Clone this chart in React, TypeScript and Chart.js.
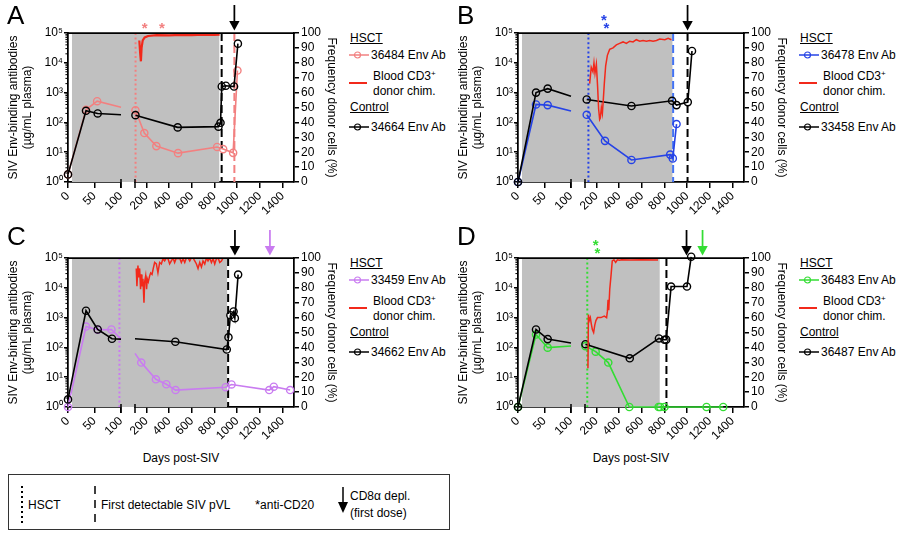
import React, { useEffect, useRef } from "react";
import { Chart, registerables } from "chart.js";

Chart.register(...registerables);

type Pt = number[]; // [day, value, markerFlag?]  markerFlag 0 => line end without marker

// ---------- shared axis values ----------
const leftSegTicks = [0, 50, 100];
const rightSegTicks = [200, 400, 600, 800, 1000, 1200, 1400];
const logTicks = [1, 10, 100, 1000, 10000, 100000];
const pctTicks = [0, 10, 20, 30, 40, 50, 60, 70, 80, 90, 100];
const supDigits = ["⁰", "¹", "²", "³", "⁴", "⁵"];

// ---------- Panel A ----------
const aHsctName = "36484 Env Ab";
const aCtrlName = "34664 Env Ab";
const aHsctLeft: Pt[] = [[0, 1.8], [34, 265], [55, 515], [100, 320, 0]];
const aHsctRight: Pt[] = [[104, 255], [182, 44], [288, 16], [479, 9.3], [823, 15], [876, 12.7], [964, 9.5], [1002, 5500]];
const aCtrlLeft: Pt[] = [[0, 1.8], [34, 245], [56, 200], [100, 180, 0]];
const aCtrlRight: Pt[] = [[104, 175], [476, 68], [835, 72], [853, 97], [864, 1600], [900, 1700], [972, 1600], [1006, 44000]];
const aChim: Pt[] = [[138, 95], [146, 86], [152, 81], [158, 90], [168, 95], [185, 97], [215, 98], [290, 98.6], [400, 98.4], [500, 98.8], [600, 98.6], [700, 98.9], [800, 98.7], [845, 98.9]];
const aGray = [7.5, 842];
const aHsctDay = 105;
const aPvlCtrlDay = 863;
const aPvlHsctDay = 975;
const aCd8CtrlDay = 975;
const aAntiCd20 = [185, 338];

// ---------- Panel B ----------
const bHsctName = "36478 Env Ab";
const bCtrlName = "33458 Env Ab";
const bHsctLeft: Pt[] = [[0, 1], [34, 400], [56, 380], [100, 240, 0]];
const bHsctRight: Pt[] = [[115, 180], [276, 24], [509, 5.5], [850, 8.3], [873, 6.2], [906, 88]];
const bCtrlLeft: Pt[] = [[0, 1], [34, 1000], [56, 1360], [100, 760, 0]];
const bCtrlRight: Pt[] = [[115, 590], [509, 355], [867, 530], [906, 380], [1005, 480], [1042, 25000]];
const bChim: Pt[] = [[141, 66], [155, 77], [170, 74], [179, 80], [188, 73], [200, 79], [211, 64], [220, 49], [229, 42], [235, 43], [244, 50], [253, 46], [261, 55], [270, 66], [282, 78], [297, 85], [317, 89], [347, 90], [376, 92], [405, 93], [435, 94], [464, 93], [494, 94.5], [523, 94], [552, 95.5], [582, 94.5], [611, 95], [641, 94.5], [670, 95], [699, 94.5], [729, 95], [758, 96], [803, 95.5], [832, 96.5], [861, 95.5]];
const bGray = [7.5, 870];
const bHsctDay = 130;
const bPvlHsctDay = 876;
const bPvlCtrlDay = 1003;
const bCd8CtrlDay = 1003;
const bAntiCd20 = [267, 288];

// ---------- Panel C ----------
const cHsctName = "33459 Env Ab";
const cCtrlName = "34662 Env Ab";
const cHsctLeft: Pt[] = [[0, 1], [34, 500], [56, 390], [82, 400], [100, 190, 0]];
const cHsctRight: Pt[] = [[100, 63, 0], [155, 31], [284, 8.5], [376, 5.8], [457, 3.7], [898, 4.6], [950, 5.7], [1282, 3.7], [1322, 4.8], [1466, 3.7]];
const cCtrlLeft: Pt[] = [[0, 1.8], [34, 1700], [56, 400], [83, 195], [100, 190, 0]];
const cCtrlRight: Pt[] = [[100, 195, 0], [455, 155], [908, 85], [923, 218], [940, 1200], [968, 1600], [979, 960], [1008, 27700]];
const cChim: Pt[] = [[111, 93], [117, 81], [126, 95], [132, 87], [141, 93], [149, 79], [155, 89], [161, 81], [170, 86], [179, 70], [185, 84], [194, 88], [202, 79], [208, 86], [217, 84], [229, 88], [238, 90], [250, 89], [261, 93], [273, 97], [288, 96], [302, 90], [317, 97], [332, 96], [346, 99.5], [361, 98], [376, 100], [391, 99.5], [405, 96], [420, 98], [435, 100], [449, 97], [464, 100], [479, 99.5], [493, 100], [508, 97], [523, 99.5], [538, 97], [552, 100], [567, 100], [582, 98], [596, 100], [611, 100], [626, 98], [641, 96], [655, 93], [670, 97], [685, 94], [699, 98], [714, 96], [729, 100], [743, 98], [758, 100], [773, 97], [788, 99.5], [802, 96], [817, 99.5], [832, 100], [846, 97], [861, 98], [876, 100], [891, 100], [905, 100]];
const cGray = [7.5, 911];
const cHsctDay = 97;
const cPvlCtrlDay = 920;
const cCd8CtrlDay = 980;
const cCd8HsctDay = 1288;

// ---------- Panel D ----------
const dHsctName = "36483 Env Ab";
const dCtrlName = "36487 Env Ab";
const dHsctLeft: Pt[] = [[0, 1], [34, 270], [56, 98], [100, 112, 0]];
const dHsctRight: Pt[] = [[104, 110], [194, 72], [305, 31], [490, 1], [748, 1], [762, 1], [800, 1], [1170, 1], [1317, 1]];
const dCtrlLeft: Pt[] = [[0, 1], [34, 400], [56, 190], [100, 140, 0]];
const dCtrlRight: Pt[] = [[104, 128], [494, 43], [751, 200], [800, 180], [815, 182], [858, 11000], [998, 11000], [1035, 110000]];
const dChim: Pt[] = [[126, 26], [130, 62], [138, 58], [147, 60], [155, 56], [165, 52], [176, 50], [186, 55], [196, 58], [210, 60], [240, 60], [270, 61], [290, 60], [297, 64], [303, 72], [309, 65], [318, 79], [330, 89], [340, 98], [355, 98.8], [370, 97], [385, 98.8], [405, 98.5], [420, 98.8], [500, 98.6], [600, 98.8], [743, 98.7]];
const dGray = [7.5, 758];
const dHsctDay = 120;
const dPvlCtrlDay = 817;
const dCd8CtrlDay = 994;
const dCd8HsctDay = 1135;
const dAntiCd20 = [194, 209];

// ---------- styling ----------
const FONT = '"Liberation Sans", Arial, Helvetica, sans-serif';
const CW = 345;
const CH = 225;
const PLOT_TOP = 33;
const PLOT_BOTTOM = 182;
const RED = "#F2291B";
const GRAY = "#C0C0C0";

type Mark = { day: number; axis: "xL" | "xR"; color: string };
type Star = { day: number; row: number };

interface Spec {
  key: string;
  ox: number;
  oy: number;
  letter: string;
  color: string;
  hsctName: string;
  ctrlName: string;
  hsctLeft: Pt[];
  hsctRight: Pt[];
  ctrlLeft: Pt[];
  ctrlRight: Pt[];
  chim: Pt[];
  chimWidth: number;
  gray: number[];
  hsct: Mark;
  pvl: Mark[];
  arrows: Mark[];
  stars: Star[];
  starColor: string;
}

const specs: Spec[] = [
  {
    key: "A", ox: 0, oy: 0, letter: "A", color: "#F28080",
    hsctName: aHsctName, ctrlName: aCtrlName,
    hsctLeft: aHsctLeft, hsctRight: aHsctRight, ctrlLeft: aCtrlLeft, ctrlRight: aCtrlRight,
    chim: aChim, chimWidth: 2.2, gray: aGray,
    hsct: { day: aHsctDay, axis: "xR", color: "#F28080" },
    pvl: [{ day: aPvlCtrlDay, axis: "xR", color: "#000" }, { day: aPvlHsctDay, axis: "xR", color: "#F28080" }],
    arrows: [{ day: aCd8CtrlDay, axis: "xR", color: "#000" }],
    stars: aAntiCd20.map((d) => ({ day: d, row: 0 })), starColor: "#F28080",
  },
  {
    key: "B", ox: 450, oy: 0, letter: "B", color: "#2643E6",
    hsctName: bHsctName, ctrlName: bCtrlName,
    hsctLeft: bHsctLeft, hsctRight: bHsctRight, ctrlLeft: bCtrlLeft, ctrlRight: bCtrlRight,
    chim: bChim, chimWidth: 1.5, gray: bGray,
    hsct: { day: bHsctDay, axis: "xR", color: "#2643E6" },
    pvl: [{ day: bPvlHsctDay, axis: "xR", color: "#4272F2" }, { day: bPvlCtrlDay, axis: "xR", color: "#000" }],
    arrows: [{ day: bCd8CtrlDay, axis: "xR", color: "#000" }],
    stars: bAntiCd20.map((d, i) => ({ day: d, row: i === 0 ? 1 : 0 })), starColor: "#2643E6",
  },
  {
    key: "C", ox: 0, oy: 225, letter: "C", color: "#C97CF0",
    hsctName: cHsctName, ctrlName: cCtrlName,
    hsctLeft: cHsctLeft, hsctRight: cHsctRight, ctrlLeft: cCtrlLeft, ctrlRight: cCtrlRight,
    chim: cChim, chimWidth: 1.5, gray: cGray,
    hsct: { day: cHsctDay, axis: "xL", color: "#C97CF0" },
    pvl: [{ day: cPvlCtrlDay, axis: "xR", color: "#000" }],
    arrows: [{ day: cCd8CtrlDay, axis: "xR", color: "#000" }, { day: cCd8HsctDay, axis: "xR", color: "#C97CF0" }],
    stars: [], starColor: "#C97CF0",
  },
  {
    key: "D", ox: 450, oy: 225, letter: "D", color: "#33DD33",
    hsctName: dHsctName, ctrlName: dCtrlName,
    hsctLeft: dHsctLeft, hsctRight: dHsctRight, ctrlLeft: dCtrlLeft, ctrlRight: dCtrlRight,
    chim: dChim, chimWidth: 1.5, gray: dGray,
    hsct: { day: dHsctDay, axis: "xR", color: "#33DD33" },
    pvl: [{ day: dPvlCtrlDay, axis: "xR", color: "#000" }],
    arrows: [{ day: dCd8CtrlDay, axis: "xR", color: "#000" }, { day: dCd8HsctDay, axis: "xR", color: "#33DD33" }],
    stars: dAntiCd20.map((d, i) => ({ day: d, row: i === 0 ? 1 : 0 })), starColor: "#33DD33",
  },
];

function seriesDatasets(left: Pt[], right: Pt[], color: string, order: number) {
  const mk = (pts: Pt[], xAxisID: string) => ({
    type: "line",
    data: pts.map((p) => ({ x: p[0], y: p[1] })),
    xAxisID,
    yAxisID: "y",
    borderColor: color,
    borderWidth: 1.6,
    pointRadius: pts.map((p) => (p.length > 2 && p[2] === 0 ? 0 : 3.6)),
    pointHoverRadius: 0,
    pointBorderColor: color,
    pointBackgroundColor: "rgba(0,0,0,0)",
    pointBorderWidth: 1.4,
    fill: false,
    tension: 0,
    clip: false,
    order,
  });
  return [mk(left, "xL"), mk(right, "xR")];
}

function makeDecor(spec: Spec) {
  const line = (ctx: CanvasRenderingContext2D, x1: number, y1: number, x2: number, y2: number) => {
    ctx.beginPath();
    ctx.moveTo(x1, y1);
    ctx.lineTo(x2, y2);
    ctx.stroke();
  };
  return {
    id: "decor" + spec.key,
    beforeDatasetsDraw(chart: any) {
      const { ctx, chartArea: ca, scales } = chart;
      const px = (m: Mark) => scales[m.axis].getPixelForValue(m.day);
      ctx.save();
      ctx.fillStyle = GRAY;
      const g1 = scales.xL.getPixelForValue(spec.gray[0]);
      const g2 = scales.xR.getPixelForValue(spec.gray[1]);
      ctx.fillRect(g1, ca.top, g2 - g1, ca.bottom - ca.top);
      // HSCT dotted line
      ctx.strokeStyle = spec.hsct.color;
      ctx.lineWidth = 2;
      ctx.setLineDash([2, 2.6]);
      const hx = px(spec.hsct);
      line(ctx, hx, ca.top, hx, ca.bottom);
      // first detectable pVL dashed lines
      ctx.setLineDash([8, 4]);
      for (const m of spec.pvl) {
        ctx.strokeStyle = m.color;
        const x = px(m);
        line(ctx, x, ca.top, x, ca.bottom);
      }
      ctx.restore();
    },
    afterDraw(chart: any) {
      const { ctx, chartArea: ca, scales } = chart;
      ctx.save();
      ctx.strokeStyle = "#000";
      ctx.lineWidth = 1.75;
      // top frame
      line(ctx, ca.left - 0.9, ca.top, ca.right + 0.9, ca.top);
      // axis break marks
      ctx.lineWidth = 1.5;
      line(ctx, scales.xL.right, ca.bottom - 3, scales.xL.right, ca.bottom + 6);
      line(ctx, scales.xR.left, ca.bottom - 3, scales.xR.left, ca.bottom + 6);
      // minor log ticks
      ctx.lineWidth = 1;
      const y = scales.y;
      for (let d = 0; d < 5; d++) {
        for (let m = 2; m <= 9; m++) {
          const py = y.getPixelForValue(m * Math.pow(10, d));
          line(ctx, y.right - 2.6, py, y.right, py);
        }
      }
      // arrows (CD8 depletion)
      for (const a of spec.arrows) {
        const x = scales[a.axis].getPixelForValue(a.day);
        ctx.strokeStyle = a.color;
        ctx.fillStyle = a.color;
        ctx.lineWidth = 1.75;
        line(ctx, x, ca.top - 28, x, ca.top - 10);
        ctx.beginPath();
        ctx.moveTo(x - 5.2, ca.top - 12);
        ctx.lineTo(x + 5.2, ca.top - 12);
        ctx.lineTo(x, ca.top - 2.5);
        ctx.closePath();
        ctx.fill();
      }
      // anti-CD20 asterisks
      ctx.fillStyle = spec.starColor;
      ctx.font = `bold 15px ${FONT}`;
      ctx.textAlign = "center";
      ctx.textBaseline = "middle";
      for (const s of spec.stars) {
        const x = scales.xR.getPixelForValue(s.day);
        ctx.fillText("*", x, ca.top - 4 - s.row * 8);
      }
      ctx.restore();
    },
  };
}

function buildConfig(spec: Spec): any {
  const tickFont = { family: FONT, size: 12 };
  const grid = { display: true, drawOnChartArea: false, drawTicks: true, color: "#000", lineWidth: 1.5 };
  const border = { display: true, color: "#000", width: 1.75 };
  const XH = CH - PLOT_BOTTOM;
  const xTicks = {
    color: "#000", font: tickFont, minRotation: 45, maxRotation: 45, padding: 1, autoSkip: false,
    callback: (v: number) => String(v),
  };
  return {
    type: "line",
    data: {
      datasets: [
        {
          type: "line",
          data: spec.chim.map((p) => ({ x: p[0], y: p[1] })),
          xAxisID: "xR",
          yAxisID: "yR",
          borderColor: RED,
          borderWidth: spec.chimWidth,
          pointRadius: 0,
          fill: false,
          tension: 0,
          order: 0,
        },
        ...seriesDatasets(spec.ctrlLeft, spec.ctrlRight, "#000", 1),
        ...seriesDatasets(spec.hsctLeft, spec.hsctRight, spec.color, 2),
      ],
    },
    options: {
      responsive: false,
      animation: false,
      devicePixelRatio: 1,
      events: [],
      layout: { padding: { top: PLOT_TOP, left: 0, right: 0, bottom: 0 } },
      plugins: { legend: { display: false }, tooltip: { enabled: false }, title: { display: false } },
      scales: {
        xL: {
          type: "linear", position: "bottom", stack: "days", stackWeight: 53, min: 0, max: 100,
          afterBuildTicks: (s: any) => { s.ticks = leftSegTicks.map((v) => ({ value: v })); },
          afterFit: (s: any) => { s.height = XH; },
          ticks: xTicks, grid: { ...grid, tickLength: 6 }, border,
        },
        xG: {
          type: "linear", position: "bottom", stack: "days", stackWeight: 14, min: 0, max: 1,
          afterFit: (s: any) => { s.height = XH; },
          ticks: { display: false }, grid: { display: false }, border: { display: false },
        },
        xR: {
          type: "linear", position: "bottom", stack: "days", stackWeight: 159, min: 100, max: 1500,
          afterBuildTicks: (s: any) => { s.ticks = rightSegTicks.map((v) => ({ value: v })); },
          afterFit: (s: any) => { s.height = XH; },
          ticks: xTicks, grid: { ...grid, tickLength: 6 }, border,
        },
        y: {
          type: "logarithmic", position: "left", min: 1, max: 100000,
          afterBuildTicks: (s: any) => { s.ticks = logTicks.map((v) => ({ value: v })); },
          afterFit: (s: any) => { s.width = 68; },
          ticks: {
            color: "#000", font: tickFont, padding: 1, autoSkip: false,
            callback: (v: number) => "10" + supDigits[Math.round(Math.log10(v))],
          },
          grid: { ...grid, tickLength: 4 }, border,
          title: {
            display: true, text: ["SIV Env-binding antibodies", "(µg/mL plasma)"], color: "#000",
            font: { family: FONT, size: 12, lineHeight: 1.12 }, padding: { top: 7.3, bottom: 0 },
          },
        },
        yR: {
          type: "linear", position: "right", min: 0, max: 100,
          afterBuildTicks: (s: any) => { s.ticks = pctTicks.map((v) => ({ value: v })); },
          afterFit: (s: any) => { s.width = CW - 294; },
          ticks: { color: "#000", font: tickFont, padding: 2, autoSkip: false, callback: (v: number) => String(v) },
          grid: { ...grid, tickLength: 5 }, border,
          title: {
            display: true, text: "Frequency donor cells (%)", color: "#000",
            font: { family: FONT, size: 12 }, padding: { top: 6, bottom: 0 },
          },
        },
      },
    },
    plugins: [makeDecor(spec)],
  };
}

function PanelChart({ spec }: { spec: Spec }) {
  const ref = useRef<HTMLCanvasElement>(null);
  useEffect(() => {
    const chart = new Chart(ref.current as HTMLCanvasElement, buildConfig(spec));
    return () => chart.destroy();
  }, [spec]);
  return (
    <canvas
      ref={ref}
      width={CW}
      height={CH}
      style={{ position: "absolute", left: spec.ox, top: spec.oy, width: CW, height: CH }}
    />
  );
}

function T({ x, y, children, u, size }: { x: number; y: number; children: any; u?: boolean; size?: number }) {
  return (
    <div
      style={{
        position: "absolute", left: x, top: y - 7, fontSize: size || 12, lineHeight: "14px",
        whiteSpace: "nowrap", color: "#000", textDecoration: u ? "underline" : "none",
      }}
    >
      {children}
    </div>
  );
}

function LegendMark({ x, y, color }: { x: number; y: number; color: string }) {
  return (
    <svg style={{ position: "absolute", left: x, top: y - 5 }} width={21} height={10}>
      <line x1={0} y1={5} x2={20} y2={5} stroke={color} strokeWidth={1.5} />
      <circle cx={8.5} cy={5} r={3} fill="none" stroke={color} strokeWidth={1.2} />
    </svg>
  );
}

function Legend({ spec }: { spec: Spec }) {
  const L = spec.ox + 350;
  const o = spec.oy;
  return (
    <>
      <T x={L} y={o + 38} u>HSCT</T>
      <LegendMark x={L - 1} y={o + 54.5} color={spec.color} />
      <T x={L + 21} y={o + 54.5}>{spec.hsctName}</T>
      <div style={{ position: "absolute", left: L - 1, top: o + 82.3, width: 18, height: 2, background: RED }} />
      <T x={L + 23} y={o + 76}>
        Blood CD3<span style={{ fontSize: 8, position: "relative", top: -4 }}>+</span>
      </T>
      <T x={L + 23} y={o + 90.5}>donor chim.</T>
      <T x={L} y={o + 106.7} u>Control</T>
      <LegendMark x={L - 1} y={o + 126.7} color="#000" />
      <T x={L + 21} y={o + 126.7}>{spec.ctrlName}</T>
    </>
  );
}

function BottomKey() {
  return (
    <>
      <div
        style={{
          position: "absolute", left: 8, top: 474, width: 442, height: 56,
          border: "1.5px solid #333", boxSizing: "border-box",
        }}
      />
      <svg style={{ position: "absolute", left: 0, top: 474 }} width={460} height={56}>
        <line x1={22} y1={12} x2={22} y2={50} stroke="#000" strokeWidth={2} strokeDasharray="2 3" />
        <line x1={95} y1={12} x2={95} y2={50} stroke="#000" strokeWidth={1.5} strokeDasharray="8 6" />
        <line x1={343} y1={13} x2={343} y2={30} stroke="#000" strokeWidth={1.5} />
        <polygon points="338,28 348,28 343,39" fill="#000" />
      </svg>
      <T x={28} y={505}>HSCT</T>
      <T x={101} y={505}>First detectable SIV pVL</T>
      <T x={255} y={505}>
        <span style={{ fontSize: 13 }}>*</span>anti-CD20
      </T>
      <T x={350} y={496}>CD8α depl.</T>
      <T x={350} y={513}>(first dose)</T>
    </>
  );
}

export default function App() {
  return (
    <div
      style={{
        position: "absolute", left: 0, top: 0, width: 904, height: 533, background: "#fff",
        fontFamily: FONT, overflow: "hidden",
      }}
    >
      {specs.map((s) => (
        <PanelChart key={s.key} spec={s} />
      ))}
      {specs.map((s) => (
        <Legend key={"l" + s.key} spec={s} />
      ))}
      {specs.map((s) => (
        <div
          key={"t" + s.key}
          style={{ position: "absolute", left: s.ox + 7, top: s.oy + (s.oy ? -2 : 1.6), fontSize: 26, lineHeight: "26px", color: "#000" }}
        >
          {s.letter}
        </div>
      ))}
      <div style={{ position: "absolute", left: 81, top: 451, width: 200, textAlign: "center", fontSize: 12, lineHeight: "14px" }}>
        Days post-SIV
      </div>
      <div style={{ position: "absolute", left: 531, top: 451, width: 200, textAlign: "center", fontSize: 12, lineHeight: "14px" }}>
        Days post-SIV
      </div>
      <BottomKey />
    </div>
  );
}
